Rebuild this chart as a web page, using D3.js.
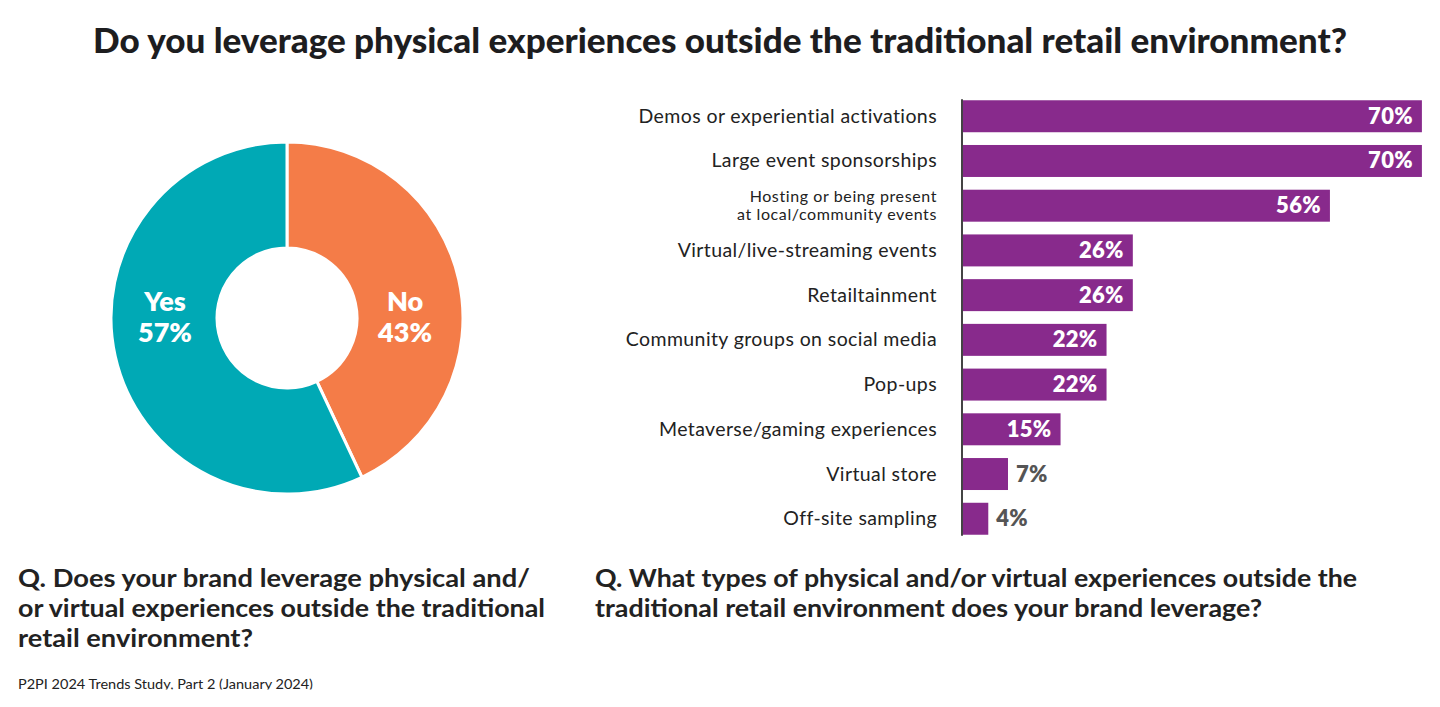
<!DOCTYPE html>
<html><head><meta charset="utf-8">
<script src="https://cdn.jsdelivr.net/npm/d3@7"></script>
<style>html,body{margin:0;padding:0;background:#fff;}svg{display:block;}</style>
</head><body>
<svg id="c" width="1440" height="707"></svg>
<script>
const pieLabels = ["No", "Yes"];
const pieValues = [43, 57];
const pieColors = ["#f47c48", "#00a9b5"];

const categories = [
  "Demos or experiential activations",
  "Large event sponsorships",
  "Hosting or being present\nat local/community events",
  "Virtual/live-streaming events",
  "Retailtainment",
  "Community groups on social media",
  "Pop-ups",
  "Metaverse/gaming experiences",
  "Virtual store",
  "Off-site sampling"
];
const barValues = [70, 70, 56, 26, 26, 22, 22, 15, 7, 4];

const title = "Do you leverage physical experiences outside the traditional retail environment?";
const leftQ = ["Q. Does your brand leverage physical and/", "or virtual experiences outside the traditional", "retail environment?"];
const rightQ = ["Q. What types of physical and/or virtual experiences outside the", "traditional retail environment does your brand leverage?"];
const source = "P2PI 2024 Trends Study, Part 2 (January 2024)";

const svg = d3.select("#c");
const F = "Lato, 'Open Sans', sans-serif";

// Title
svg.append("text").attr("x", 93).attr("y", 53)
  .attr("font-family", F).attr("font-weight", 900).attr("font-size", 34)
  .attr("fill", "#1d1d1f").attr("textLength", 1254).attr("lengthAdjust", "spacingAndGlyphs")
  .text(title);

// Donut
const cx = 287, cy = 318, rOut = 176, rIn = 70;
const pie = d3.pie().sort(null).value(d => d)(pieValues);
const arc = d3.arc().innerRadius(rIn).outerRadius(rOut);
const g = svg.append("g").attr("transform", `translate(${cx},${cy})`);
g.selectAll("path").data(pie).join("path")
  .attr("d", arc).attr("fill", (d, i) => pieColors[i])
  .attr("stroke", "#fff").attr("stroke-width", 3);
const labelArc = d3.arc().innerRadius((rIn + rOut) / 2).outerRadius((rIn + rOut) / 2);
pie.forEach((d, i) => {
  const [x] = labelArc.centroid(d);
  const t = g.append("text").attr("text-anchor", "middle")
    .attr("font-family", F).attr("font-weight", 800).attr("font-size", 27).attr("fill", "#fff");
  t.append("tspan").attr("x", x - 2).attr("y", -7).text(pieLabels[i]);
  t.append("tspan").attr("x", x - 2).attr("y", 24).text(pieValues[i] + "%");
});

// Bars
const x0 = 962;
const x = d3.scaleLinear().domain([0, 100]).range([x0, x0 + 657]);
const y = d3.scaleBand().domain(categories).range([94, 541]).paddingInner(0.285).paddingOuter(0.14);
const bw = y.bandwidth();

svg.append("g").selectAll("rect").data(categories).join("rect")
  .attr("x", x(0)).attr("y", d => y(d)).attr("width", (d, i) => x(barValues[i]) - x(0))
  .attr("height", bw).attr("fill", "#882a8c");

svg.append("line").attr("x1", x0).attr("x2", x0)
  .attr("y1", y(categories[0]) - 1).attr("y2", y(categories[9]) + bw + 1)
  .attr("stroke", "#444").attr("stroke-width", 2);

categories.forEach((c, i) => {
  const yc = y(c) + bw / 2;
  const lines = c.split("\n");
  const multi = lines.length > 1;
  const t = svg.append("text").attr("text-anchor", "end")
    .attr("font-family", F).attr("font-size", multi ? 16 : 19.5)
    .attr("letter-spacing", multi ? 0.6 : 0.4).attr("fill", "#222");
  if (!multi) {
    t.append("tspan").attr("x", 937).attr("y", yc + 6.5).text(lines[0]);
  } else {
    t.append("tspan").attr("x", 937).attr("y", yc - 3.5).text(lines[0]);
    t.append("tspan").attr("x", 937).attr("y", yc + 14.5).text(lines[1]);
  }
  const v = barValues[i];
  const inside = v >= 10;
  svg.append("text")
    .attr("x", inside ? x(v) - 9 : x(v) + 8).attr("y", yc + 7.5)
    .attr("text-anchor", inside ? "end" : "start")
    .attr("font-family", F).attr("font-weight", 800).attr("font-size", 22).attr("letter-spacing", 0.3)
    .attr("fill", inside ? "#fff" : "#555").text(v + "%");
});

// Questions
const qStyle = t => t.attr("font-family", F).attr("font-weight", 700).attr("font-size", 25).attr("fill", "#222");
const leftW = [512, 527, 235];
leftQ.forEach((l, i) => qStyle(svg.append("text").attr("x", 18).attr("y", 587 + i * 30)
  .attr("textLength", leftW[i]).attr("lengthAdjust", "spacingAndGlyphs")).text(l));
const rightW = [762, 667];
rightQ.forEach((l, i) => qStyle(svg.append("text").attr("x", 595).attr("y", 587 + i * 30)
  .attr("textLength", rightW[i]).attr("lengthAdjust", "spacingAndGlyphs")).text(l));

// Source (clipped at bottom like the reference)
svg.append("clipPath").attr("id", "srcClip").append("rect")
  .attr("x", 0).attr("y", 660).attr("width", 400).attr("height", 29.5);
svg.append("text").attr("x", 18).attr("y", 689).attr("clip-path", "url(#srcClip)")
  .attr("font-family", F).attr("font-size", 13.5).attr("fill", "#222")
  .attr("textLength", 295).attr("lengthAdjust", "spacingAndGlyphs").text(source);
</script>
</body></html>
